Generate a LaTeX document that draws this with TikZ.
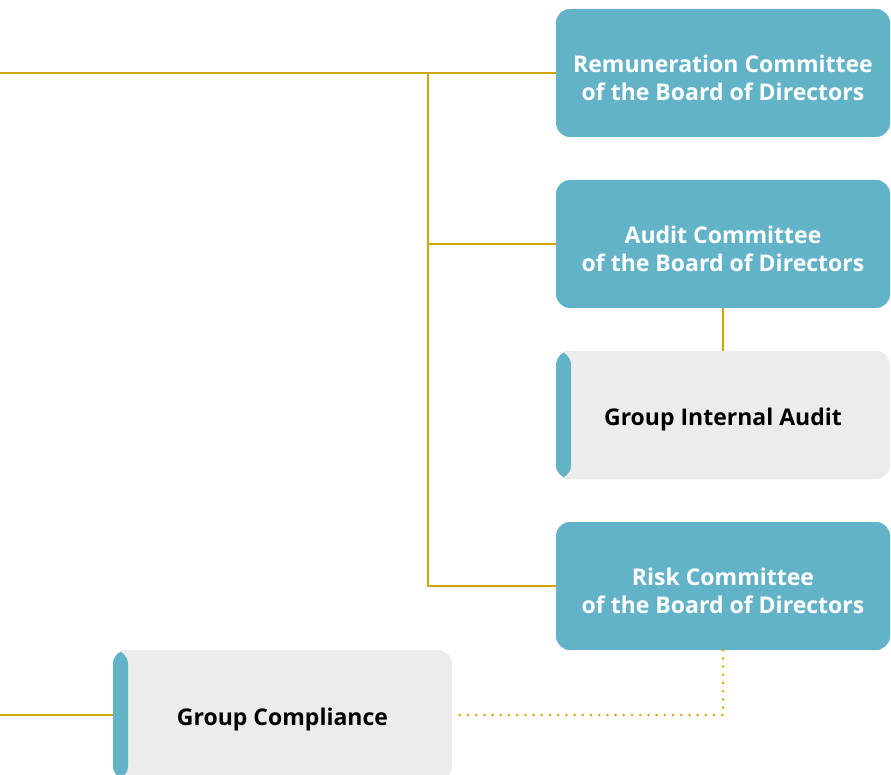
\documentclass[tikz,border=0pt]{standalone}
\usepackage{fontspec}
\setmainfont{Open Sans}
\definecolor{teal}{HTML}{62B3C8}
\definecolor{boxgray}{HTML}{ECECEC}
\definecolor{gold}{HTML}{D2A506}
\begin{document}
\begin{tikzpicture}[x=1pt,y=-1pt,
  boxfont/.style={font=\bfseries\fontsize{23}{28}\selectfont, align=center},
  committee/.style={fill=teal, rounded corners=14pt, minimum width=334pt,
    minimum height=128pt, inner sep=0pt},
  ctext/.style={boxfont, text=white, yshift=-5pt},
  unitbox/.style={fill=boxgray, rounded corners=14pt, inner sep=0pt,
    path picture={\fill[teal] (path picture bounding box.south west)
      rectangle ([xshift=15pt]path picture bounding box.north west);}},
  utext/.style={boxfont, text=black, yshift=-5pt},
  link/.style={draw=gold, line width=2.6pt},
  dotlink/.style={draw=gold, line width=2.8pt, line cap=round,
    dash pattern=on 0pt off 8.2pt}]
\useasboundingbox (0,0) rectangle (891,775);

% committees of the board
\node[committee, label={[ctext]center:{Remuneration Committee\\of the Board of Directors}}] (rem) at (723,73) {};
\node[committee, label={[ctext]center:{Audit Committee\\of the Board of Directors}}] (aud) at (723,244) {};
\node[unitbox, minimum width=334pt, minimum height=128pt,
  label={[utext]center:Group Internal Audit}] (gia) at (723,415) {};
\node[committee, label={[ctext]center:{Risk Committee\\of the Board of Directors}}] (risk) at (723,586) {};
\node[unitbox, minimum width=339pt, minimum height=130pt,
  label={[utext]center:Group Compliance}] (gc) at (282.5,715) {};

% reporting lines
\coordinate (board) at (0,73);
\coordinate (split) at (428,73);
\coordinate (ceo) at (0,715);
\draw[link] (board) -- (rem.west);
\draw[link] (split) |- (risk.west);
\draw[link] (split |- aud.west) -- (aud.west);
\draw[link] (aud.south) -- (gia.north);
\draw[link] (ceo) -- (gc.west);
\draw[dotlink] (risk.south) |- ([xshift=3pt]gc.east);
\end{tikzpicture}
\end{document}
